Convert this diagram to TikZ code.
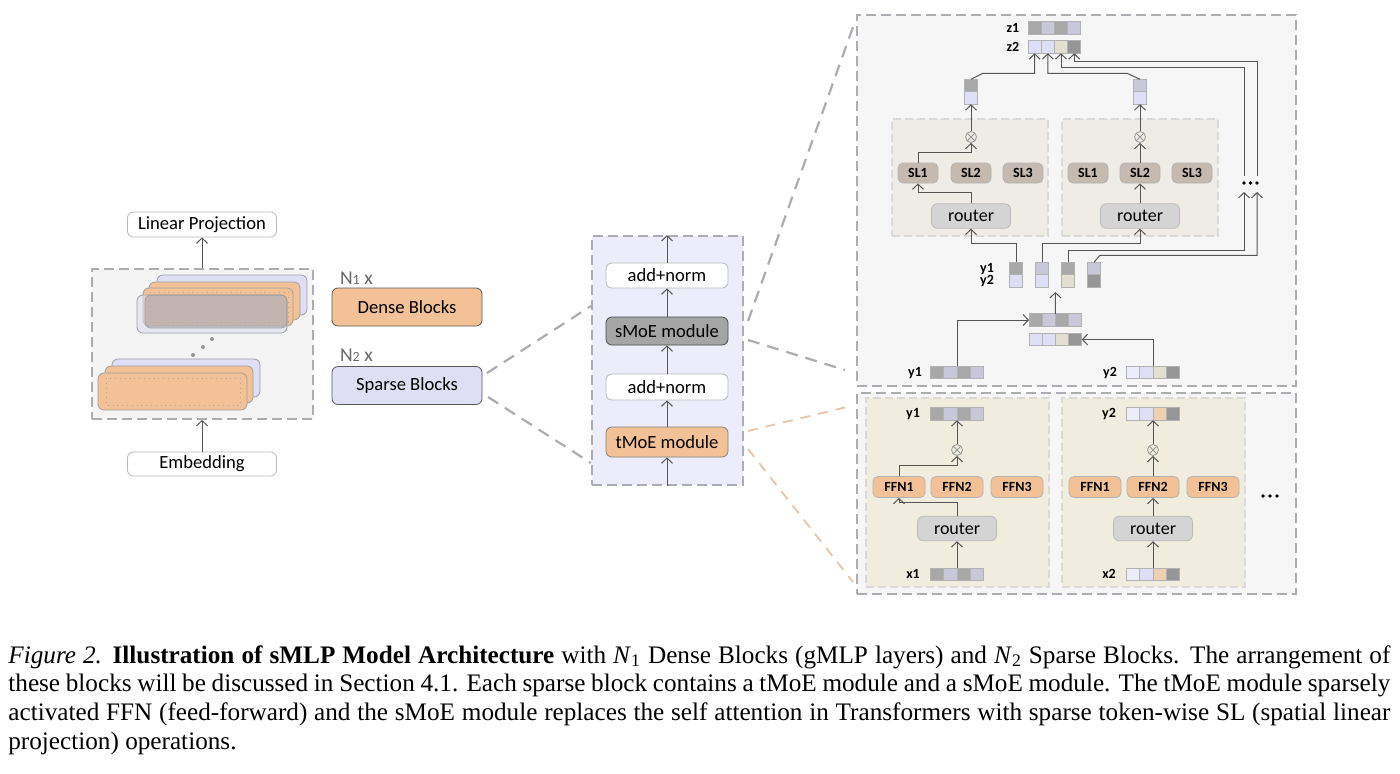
\documentclass[tikz,border=0pt]{standalone}
\usepackage{fontspec}
\setmainfont{Liberation Serif}
\setsansfont{Carlito}
\usepackage{tikz}
\usetikzlibrary{positioning,arrows.meta}

\definecolor{orng}{RGB}{242,194,150}
\definecolor{lav}{RGB}{222,222,244}
\definecolor{lavl}{RGB}{236,236,250}
\definecolor{lavg}{RGB}{200,200,216}
\definecolor{cgray}{RGB}{168,168,168}
\definecolor{cdark}{RGB}{150,150,150}
\definecolor{cbeige}{RGB}{226,222,208}
\definecolor{corng}{RGB}{240,208,176}
\definecolor{smoe}{RGB}{165,165,165}
\definecolor{rout}{RGB}{212,212,212}
\definecolor{slc}{RGB}{196,186,176}
\definecolor{pbg}{RGB}{246,246,246}
\definecolor{sbg}{RGB}{238,236,229}
\definecolor{fbg}{RGB}{240,236,222}
\definecolor{lbg}{RGB}{244,244,244}
\definecolor{lnc}{RGB}{85,85,85}
\definecolor{dshc}{RGB}{172,172,178}

% a row of four token cells, named #1-1 .. #1-4
\newcommand{\tokrow}[6]{%
  \node[cell, fill=#3] (#1-1) at (#2) {};
  \node[cell, fill=#4, right=0pt of #1-1] (#1-2) {};
  \node[cell, fill=#5, right=0pt of #1-2] (#1-3) {};
  \node[cell, fill=#6, right=0pt of #1-3] (#1-4) {};
}
% a column of two cells, named #1-a and #1-b
\newcommand{\tokcol}[4]{%
  \node[cell, fill=#3] (#1-a) at (#2) {};
  \node[cell, fill=#4, below=0pt of #1-a] (#1-b) {};
}

\begin{document}
\begin{tikzpicture}[x=0.5pt, y=-0.5pt,
  every node/.style={font=\sffamily},
  box/.style={draw=gray!55, fill=white, rounded corners=3pt, inner sep=0pt, font=\sffamily\fontsize{9.3}{11}\selectfont},
  blk/.style={box, draw=black!65, minimum width=75pt, minimum height=19pt},
  modbox/.style={box, minimum width=61pt},
  frame/.style={draw=dshc, line width=0.9pt, dash pattern=on 5pt off 2.5pt},
  inner/.style={draw=gray!30, line width=0.6pt, dash pattern=on 4pt off 2pt},
  lyr/.style={draw=gray!75, line width=0.4pt, rounded corners=3pt},
  cell/.style={draw=gray!60, line width=0.35pt, minimum width=6.6pt, minimum height=6.25pt, inner sep=0pt, outer sep=0pt},
  tag/.style={font=\sffamily\bfseries\fontsize{7}{8}\selectfont, inner sep=0pt},
  expert/.style={draw=gray!60, rounded corners=2.5pt, inner sep=0pt, minimum height=10pt, font=\sffamily\bfseries\fontsize{7}{8}\selectfont},
  router/.style={draw=gray!55, fill=rout, rounded corners=3pt, inner sep=0pt, minimum width=39.5pt, minimum height=12.3pt, font=\sffamily\fontsize{9}{10}\selectfont},
  mult/.style={circle, draw=gray!80, line width=0.4pt, minimum size=5.5pt, inner sep=0pt,
    path picture={\draw[gray!80, line width=0.4pt] (path picture bounding box.north west) -- (path picture bounding box.south east)
      (path picture bounding box.north east) -- (path picture bounding box.south west);}},
  arr/.style={draw=lnc, line width=0.5pt, -{Straight Barb[length=2.6pt,width=5.5pt]}},
  zoomg/.style={draw=dshc, line width=1.1pt, dash pattern=on 6pt off 4pt},
  zoomo/.style={draw=orng!90!black, line width=0.9pt, dash pattern=on 5pt off 4pt, opacity=0.7}]

\fill[white] (0,0) rectangle (1400,773);
\useasboundingbox (0,0) rectangle (1400,773);

% left: the stack of blocks
\node[frame, fill=lbg, minimum width=110.5pt, minimum height=75pt] (F0) at (202.5,344) {};

\draw[lyr, fill=lav] (157,275) rectangle (307,315);
\draw[lyr, fill=orng] (149,282) rectangle (300,320);
\draw[lyr, fill=orng] (143,288) rectangle (293,326);
\draw[gray!70, dotted] (150,292) rectangle (288,322);
\draw[lyr, fill=lav, fill opacity=0.55] (137,295) rectangle (287,333);
\draw[lyr, fill=gray, fill opacity=0.35] (145,295) rectangle (287,328);

\draw[lyr, fill=lav] (112,359) rectangle (260,397);
\draw[lyr, fill=orng] (105,366) rectangle (253,403);
\draw[lyr, fill=orng] (98,373) rectangle (247,410);
\draw[gray!70, dotted] (106,378) rectangle (240,405);
\fill[gray!85] (193,355) circle (1pt) (203,347) circle (1pt) (212,339) circle (1pt);

\node[box, minimum width=74.5pt, minimum height=12.5pt] (L1) at (202,224.5) {Linear Projection};
\node[box, minimum width=74.5pt, minimum height=12pt] (L2) at (202,464) {Embedding};
\draw[arr] (L1.south |- F0.north) -- (L1.south);
\draw[arr] (L2.north) -- (L2.north |- F0.south);

\node[anchor=west, text=black!60, font=\sffamily\fontsize{9.8}{11}\selectfont] (N1) at (333,278) {N{\fontsize{7}{7}\selectfont 1} x};
\node[blk, fill=orng] (D1) at (407,307) {Dense Blocks};
\node[anchor=west, text=black!60, font=\sffamily\fontsize{9.8}{11}\selectfont] (N2) at (333,355) {N{\fontsize{7}{7}\selectfont 2} x};
\node[blk, fill=lav] (S1) at (407,385.5) {Sparse Blocks};

% middle: one sparse block
\coordinate (s1a) at (487,373);
\coordinate (s1b) at (488,397);
\coordinate (m0a) at (591,306);
\coordinate (m0b) at (591,463);
\draw[zoomg] (s1a) -- (m0a);
\draw[zoomg] (s1b) -- (m0b);

\node[frame, fill=lavl, minimum width=75.5pt, minimum height=124.5pt] (M0) at (667.5,360.5) {};
\node[modbox, minimum height=12.5pt] (M4) at (667,275.5) {add+norm};
\node[modbox, fill=smoe, draw=black!70, minimum height=14pt] (M3) at (667,331) {sMoE module};
\node[modbox, minimum height=13pt] (M2) at (667,387) {add+norm};
\node[modbox, fill=orng, draw=black!50, minimum height=15pt] (M1) at (667,442) {tMoE module};
\draw[arr] (M1.south |- M0.south) -- (M1.south);
\draw[arr] (M1) -- (M2);
\draw[arr] (M2) -- (M3);
\draw[arr] (M3) -- (M4);
\draw[arr] (M4.north) -- (M4.north |- M0.north);

\coordinate (m3a) at (748,321);
\coordinate (t0a) at (853,27);
\coordinate (m3b) at (748,340);
\coordinate (t0b) at (845,370);
\coordinate (m1a) at (748,431);
\coordinate (b0a) at (847,407);
\coordinate (m1b) at (748,449);
\coordinate (b0b) at (853,582);
\draw[zoomg] (m3a) -- (t0a);
\draw[zoomg] (m3b) -- (t0b);
\draw[zoomo] (m1a) -- (b0a);
\draw[zoomo] (m1b) -- (b0b);

% right: sMoE and tMoE
\node[frame, fill=pbg, minimum width=219.5pt, minimum height=185.5pt] (T0) at (1076.5,200.5) {};
\node[frame, fill=pbg, minimum width=219.5pt, minimum height=100.5pt] (B0) at (1076.5,493.5) {};
\node[inner, fill=sbg, minimum width=78pt, minimum height=58.5pt] (P1) at (970,177.5) {};
\node[inner, fill=sbg, minimum width=78pt, minimum height=58.5pt] (P2) at (1140,177.5) {};
\node[inner, fill=fbg, minimum width=91.5pt, minimum height=94.5pt] (E1) at (957.5,492.5) {};
\node[inner, fill=fbg, minimum width=91.5pt, minimum height=94.5pt] (E2) at (1153.5,492.5) {};

\node[router] (R1) at (971,216) {router};
\node[router] (R2) at (1140,216) {router};
\node[expert, fill=slc, minimum width=20pt] (S11) at (918,173) {SL1};
\node[expert, fill=slc, minimum width=20pt] (S12) at (971,173) {SL2};
\node[expert, fill=slc, minimum width=20pt] (S13) at (1023,173) {SL3};
\node[expert, fill=slc, minimum width=20pt] (S21) at (1088,173) {SL1};
\node[expert, fill=slc, minimum width=20pt] (S22) at (1140,173) {SL2};
\node[expert, fill=slc, minimum width=20pt] (S23) at (1192,173) {SL3};
\node[mult] (X1) at (971,137) {};
\node[mult] (X2) at (1140,137) {};
\tokcol{V1}{971,85.5}{cgray}{lav}
\tokcol{V2}{1140,85.5}{lavg}{lav}

\node[tag] (lz1) at (1013,28) {z1};
\node[tag] (lz2) at (1013,47) {z2};
\tokrow{Z1}{1034.6,28}{cgray}{lavg}{cgray}{lavg}
\tokrow{Z2}{1034.6,47}{lav}{lav}{cbeige}{cdark}

\node[tag] (ly1) at (987,269) {y1};
\node[tag] (ly2) at (987,281) {y2};
\tokcol{C1}{1016,268.5}{cgray}{lav}
\tokcol{C2}{1042,268.5}{lavg}{lav}
\tokcol{C3}{1068,268.5}{cgray}{cbeige}
\tokcol{C4}{1094,268.5}{lavg}{cdark}

\tokrow{Q1}{1035.6,320}{cgray}{lavg}{cgray}{lavg}
\tokrow{Q2}{1035.6,339.5}{lav}{lav}{cbeige}{cdark}
\node[tag] (ly3) at (915,373) {y1};
\tokrow{Y1}{937.2,372.5}{cgray}{lavg}{cgray}{lavg}
\node[tag] (ly4) at (1110,373) {y2};
\tokrow{Y2}{1133.2,372.5}{lavl}{lav}{cbeige}{cdark}

\draw[arr] (R1.north) -- ++(0,-11) -| (S11.south);
\draw[arr] (S11.north) -- ++(0,-10) -| (X1.south);
\draw[arr] (X1.north) -- (V1-b.south);
\draw[arr] (R2) -- (S22);
\draw[arr] (S22) -- (X2);
\draw[arr] (X2.north) -- (V2-b.south);
\draw[arr] (V1-a.north) -- ++(12,-6) -| (Z2-1.south);
\draw[arr] (V2-a.north) -- ++(-13,-6) -| (Z2-2.south);

\coordinate (dt1) at (1244,192);
\coordinate (dt2) at (1257,192);
\coordinate (ut1) at (1244,176);
\coordinate (ut2) at (1257,176);
\draw[arr] (ut1) -- ++(0,-109) -| (Z2-3.south);
\draw[arr] (ut2) -- ++(0,-115) -| (Z2-4.south);
\fill[black] (1244,183) circle (0.9pt) (1250.5,183) circle (0.9pt) (1257,183) circle (0.9pt);

\draw[arr] (C1-a.north) -- ++(0,-19) -| (R1.south);
\draw[arr] (C2-a.north) -- ++(0,-19) -| (R2.south);
\draw[arr] (C3-a.north) -- ++(0,-12) -| (dt1);
\draw[arr] (C4-a.north) -- ++(6,-7) -| (dt2);

\coordinate (up1) at (1055.4,292);
\draw[arr] (Q1-2.north east) -- (up1);
\draw[arr] (Y1-2.north east) |- (Q1-1.west);
\draw[arr] (Y2-2.north east) |- (Q2-4.east);

% bottom: tMoE
\node[tag] (ly5) at (913,414) {y1};
\tokrow{Y3}{937.2,414}{cgray}{lavg}{cgray}{lavg}
\node[mult] (X3) at (957,450) {};
\node[expert, fill=orng, minimum width=26pt, minimum height=10.5pt] (F11) at (899,487) {FFN1};
\node[expert, fill=orng, minimum width=26pt, minimum height=10.5pt] (F12) at (957,487) {FFN2};
\node[expert, fill=orng, minimum width=26pt, minimum height=10.5pt] (F13) at (1017,487) {FFN3};
\node[router] (R3) at (957,528.5) {router};
\node[tag] (lx1) at (913,574) {x1};
\tokrow{W1}{937.2,574.5}{cgray}{lavg}{cgray}{lavg}

\node[tag] (ly6) at (1109,414) {y2};
\tokrow{Y4}{1133.2,414}{lavl}{lav}{corng}{cdark}
\node[mult] (X4) at (1153,450) {};
\node[expert, fill=orng, minimum width=26pt, minimum height=10.5pt] (F21) at (1095,487) {FFN1};
\node[expert, fill=orng, minimum width=26pt, minimum height=10.5pt] (F22) at (1153,487) {FFN2};
\node[expert, fill=orng, minimum width=26pt, minimum height=10.5pt] (F23) at (1213,487) {FFN3};
\node[router] (R4) at (1153,528.5) {router};
\node[tag] (lx2) at (1109,574) {x2};
\tokrow{W2}{1133.2,574.5}{lavl}{lav}{corng}{cdark}
\fill[black] (1263,496) circle (0.9pt) (1270,496) circle (0.9pt) (1277,496) circle (0.9pt);

\draw[arr] (R3.south |- W1-2.north east) -- (R3.south);
\draw[arr] (R3.north) -- ++(0,-13) -| (F11.south);
\draw[arr] (F11.north) -- ++(0,-10.5) -| (X3.south);
\draw[arr] (X3.north) -- (X3.north |- Y3-2.south east);
\draw[arr] (R4.south |- W2-2.north east) -- (R4.south);
\draw[arr] (R4) -- (F22);
\draw[arr] (F22) -- (X4);
\draw[arr] (X4.north) -- (X4.north |- Y4-2.south east);

% caption
\node[anchor=base west, text width=691pt, align=justify, inner sep=0pt, font=\rmfamily\fontsize{12.6}{14.4}\selectfont] (cap) at (8,663)
{\textit{Figure 2.} \textbf{Illustration of sMLP Model Architecture} with \textit{N}\textsubscript{1} Dense Blocks (gMLP layers) and \textit{N}\textsubscript{2} Sparse Blocks. The arrangement of\linebreak
these blocks will be discussed in Section 4.1. Each sparse block contains a tMoE module and a sMoE module. The tMoE module sparsely\linebreak
activated FFN (feed-forward) and the sMoE module replaces the self attention in Transformers with sparse token-wise SL (spatial linear\linebreak
projection) operations.};
\end{tikzpicture}
\end{document}
